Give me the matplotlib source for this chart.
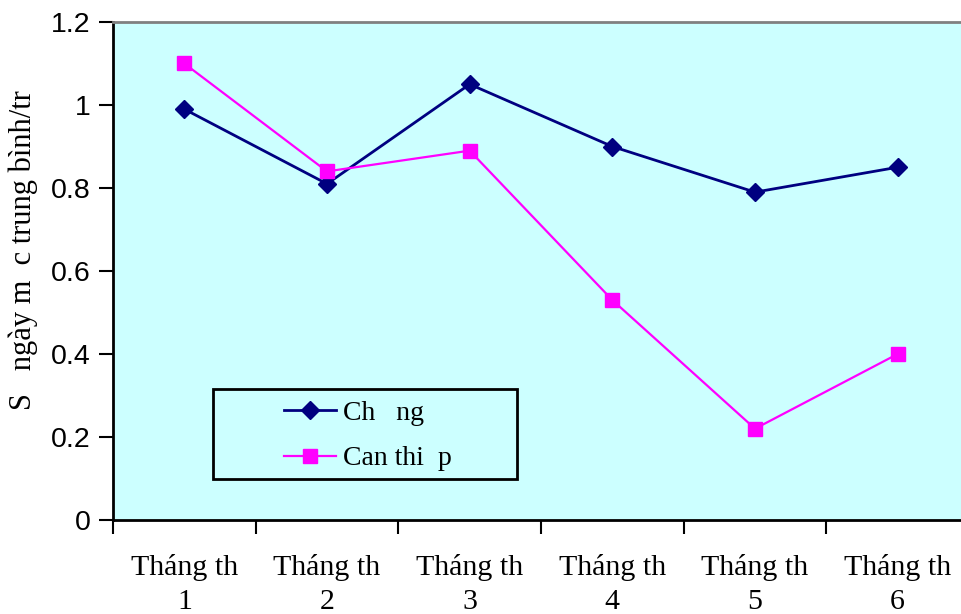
import matplotlib
matplotlib.use("Agg")
import matplotlib.pyplot as plt
from matplotlib.patches import Rectangle
import numpy as np

categories = ["Tháng th\n1", "Tháng th\n2", "Tháng th\n3", "Tháng th\n4", "Tháng th\n5", "Tháng th\n6"]
chung = [0.99, 0.81, 1.05, 0.90, 0.79, 0.85]
can_thiep = [1.10, 0.84, 0.89, 0.53, 0.22, 0.40]
series_names = ["Ch   ng", "Can thi  p"]
y_label = "S   ngày m  c trung bình/tr"
y_ticks = [0, 0.2, 0.4, 0.6, 0.8, 1.0, 1.2]
y_tick_labels = ["0", "0.2", "0.4", "0.6", "0.8", "1", "1.2"]

fig = plt.figure(figsize=(9.61, 6.14), dpi=100)
ax = fig.add_axes([113 / 961, 94 / 614, 856 / 961, 498 / 614])
ax.set_facecolor("#CCFFFF")

x = np.arange(len(categories))
ax.plot(x, chung, color="#000080", lw=2, marker="D", ms=9.5, label=series_names[0])
ax.plot(x, can_thiep, color="#FF00FF", lw=1.6, marker="s", ms=9.5, label=series_names[1])

ax.set_xlim(-0.5, len(categories) - 0.5)
ax.set_ylim(0, 1.2)

ax.set_yticks(y_ticks)
ax.set_yticklabels(y_tick_labels, fontfamily="Liberation Sans", fontsize=20.5)
ax.tick_params(axis="y", direction="out", length=10, width=1.5, pad=6)

ax.set_xticks(np.arange(len(categories) + 1) - 0.5)
ax.set_xticklabels([])
ax.set_xticks(x, minor=True)
ax.set_xticklabels(categories, minor=True, fontfamily="Liberation Serif", fontsize=21.5,
                   linespacing=1.38)
ax.tick_params(axis="x", which="major", direction="out", length=10, width=1.5)
ax.tick_params(axis="x", which="minor", length=0, pad=24.5)

for side in ("left", "bottom"):
    ax.spines[side].set_color("black")
    ax.spines[side].set_linewidth(2)
ax.spines["top"].set_color("#808080")
ax.spines["top"].set_linewidth(2)
ax.spines["right"].set_visible(False)

fig.text(23 / 961, 1 - 250 / 614, y_label, rotation=90, ha="center", va="center",
         fontfamily="Liberation Serif", fontsize=22)

# legend frame drawn as a patch, entries centred inside it
box_x0, box_x1, box_y0, box_y1 = 213, 517, 389, 479
fx0, fx1 = box_x0 / 961, box_x1 / 961
fy0, fy1 = 1 - box_y1 / 614, 1 - box_y0 / 614
fig.patches.append(Rectangle((fx0, fy0), fx1 - fx0, fy1 - fy0, transform=fig.transFigure,
                             facecolor="none", edgecolor="black", lw=2, zorder=5))
leg = fig.legend(loc="center", bbox_to_anchor=((fx0 + fx1) / 2 + 3 / 961, (fy0 + fy1) / 2 - 2 / 614),
                 frameon=False, prop={"family": "Liberation Serif", "size": 20},
                 handlelength=1.85, handletextpad=0.25, labelspacing=0.72, borderpad=0)

fig.savefig("out.png", dpi=100)
